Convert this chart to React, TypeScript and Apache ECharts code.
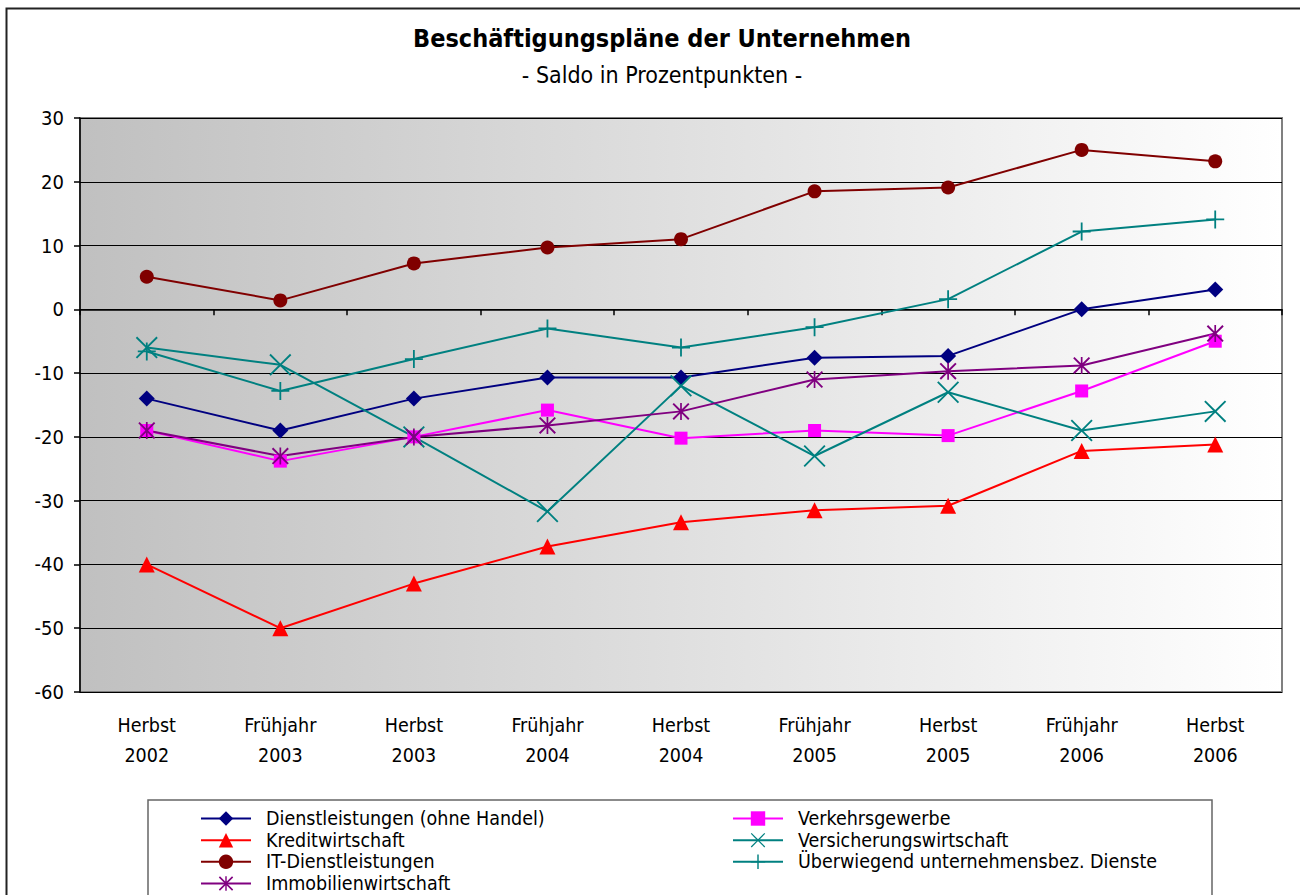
import React, { useEffect, useRef } from "react";
import * as echarts from "echarts";

const categories = [
  "Herbst\n2002", "Frühjahr\n2003", "Herbst\n2003", "Frühjahr\n2004", "Herbst\n2004",
  "Frühjahr\n2005", "Herbst\n2005", "Frühjahr\n2006", "Herbst\n2006",
];

const dienstleistungen = [-14, -19, -14, -10.7, -10.7, -7.6, -7.3, 0, 3.1];
const verkehrsgewerbe = [-19, -23.8, -20, -15.8, -20.2, -19, -19.8, -12.8, -5];
const kreditwirtschaft = [-40, -50, -43, -37.2, -33.4, -31.5, -30.8, -22.2, -21.2];
const versicherungswirtschaft = [-6, -8.7, -20, -31.7, -12, -23, -13, -19, -16];
const itDienstleistungen = [5.1, 1.4, 7.2, 9.7, 11, 18.5, 19.1, 25, 23.2];
const ueberwiegend = [-6.6, -12.8, -7.8, -3, -6, -2.8, 1.6, 12.2, 14.1];
const immobilienwirtschaft = [-19, -23, -20, -18.2, -16, -11, -9.7, -8.8, -3.8];

const yTicks = { min: -60, max: 30, interval: 10 };

const seriesNames = [
  "Dienstleistungen (ohne Handel)",
  "Verkehrsgewerbe",
  "Kreditwirtschaft",
  "Versicherungswirtschaft",
  "IT-Dienstleistungen",
  "Überwiegend unternehmensbez. Dienste",
  "Immobilienwirtschaft",
];

const FONT = "'DejaVu Sans Condensed', 'DejaVu Sans', sans-serif";

const X_PATH =
  "path://M0,6 L6,0 L50,44 L94,0 L100,6 L56,50 L100,94 L94,100 L50,56 L6,100 L0,94 L44,50 Z";
const PLUS_PATH =
  "path://M45,0 L55,0 L55,45 L100,45 L100,55 L55,55 L55,100 L45,100 L45,55 L0,55 L0,45 L45,45 Z";
const STAR_PATH =
  "path://M45,0 L55,0 L55,100 L45,100 Z M0,8 L8,0 L50,42 L92,0 L100,8 L58,50 L100,92 L92,100 L50,58 L8,100 L0,92 L42,50 Z";

export default function App() {
  const ref = useRef<HTMLDivElement>(null);
  useEffect(() => {
    if (!ref.current) return;
    const chart = echarts.init(ref.current, undefined, { renderer: "svg" });
    const mk = (name: string, data: number[], color: string, symbol: string, size: number) => ({
      name,
      type: "line",
      data,
      xAxisIndex: 0,
      yAxisIndex: 0,
      symbol,
      symbolSize: size,
      showAllSymbol: true,
      lineStyle: { color, width: 2 },
      itemStyle: { color },
      emphasis: { disabled: true },
    });
    const legendText = { fontFamily: FONT, fontSize: 19.5, color: "#000", lineHeight: 19, padding: [0, 0, 0, 10] };
    // legend positions: [series index, left, row center]
    const legendSlots: [number, number, number][] = [
      [0, 200, 818],
      [1, 732, 818],
      [2, 200, 839.7],
      [3, 732, 839.7],
      [4, 200, 861.3],
      [5, 732, 861.3],
      [6, 200, 883],
    ];
    chart.setOption({
      animation: false,
      backgroundColor: "#ffffff",
      title: {
        text: "Beschäftigungspläne der Unternehmen",
        subtext: "- Saldo in Prozentpunkten -",
        left: 657,
        textAlign: "center",
        top: 21,
        itemGap: 12,
        textStyle: { fontFamily: FONT, fontSize: 25, fontWeight: "bold", color: "#000" },
        subtextStyle: { fontFamily: FONT, fontSize: 23, color: "#000" },
      },
      grid: {
        left: 80,
        top: 118,
        width: 1202,
        height: 574,
        show: true,
        borderColor: "#808080",
        borderWidth: 2,
        backgroundColor: new echarts.graphic.LinearGradient(0, 0, 1, 0, [
          { offset: 0, color: "#c0c0c0" },
          { offset: 1, color: "#ffffff" },
        ]),
      },
      legend: legendSlots.map(([i, left, cy]) => ({
        orient: "horizontal",
        left,
        top: cy - 9.5,
        padding: 0,
        itemWidth: 50,
        itemHeight: 18,
        selectedMode: false,
        textStyle: legendText,
        data: [seriesNames[i]],
      })),
      graphic: [
        {
          type: "rect",
          shape: { x: 6.5, y: 8.5, width: 1400, height: 1000 },
          style: { fill: "none", stroke: "#222", lineWidth: 2 },
          silent: true,
        },
        {
          type: "rect",
          shape: { x: 148, y: 800, width: 1064, height: 200 },
          style: { fill: "none", stroke: "#666", lineWidth: 1.5 },
          silent: true,
        },
      ],
      xAxis: [
        {
          type: "category",
          data: categories,
          position: "bottom",
          axisLine: { show: false, onZero: false },
          axisTick: { show: false },
          splitLine: { show: false },
          axisLabel: {
            fontFamily: FONT,
            fontSize: 19.5,
            color: "#000",
            lineHeight: 30,
            margin: 18,
          },
        },
        {
          type: "category",
          data: categories,
          position: "bottom",
          axisLine: { show: true, onZero: true, lineStyle: { color: "#000", width: 1.5 } },
          axisTick: { show: true, length: 6, lineStyle: { color: "#000", width: 1.5 } },
          axisLabel: { show: false },
          splitLine: { show: false },
        },
      ],
      yAxis: {
        type: "value",
        min: yTicks.min,
        max: yTicks.max,
        interval: yTicks.interval,
        axisLine: { show: true, lineStyle: { color: "#000", width: 1.5 } },
        axisTick: { show: true, length: 6, lineStyle: { color: "#000", width: 1.5 } },
        splitLine: { show: true, lineStyle: { color: "#000", width: 1 } },
        axisLabel: { fontFamily: FONT, fontSize: 20, color: "#000", margin: 16 },
      },
      series: [
        mk(seriesNames[0], dienstleistungen, "#000080", "diamond", 16),
        mk(seriesNames[1], verkehrsgewerbe, "#ff00ff", "rect", 13),
        mk(seriesNames[2], kreditwirtschaft, "#ff0000", "triangle", 16),
        mk(seriesNames[3], versicherungswirtschaft, "#008080", X_PATH, 22),
        mk(seriesNames[4], itDienstleistungen, "#800000", "circle", 14),
        mk(seriesNames[5], ueberwiegend, "#008080", PLUS_PATH, 18),
        mk(seriesNames[6], immobilienwirtschaft, "#800080", STAR_PATH, 17),
      ],
    });
    return () => chart.dispose();
  }, []);
  return (
    <div
      ref={ref}
      style={{ position: "fixed", left: 0, top: 0, width: 1300, height: 895 }}
    />
  );
}
